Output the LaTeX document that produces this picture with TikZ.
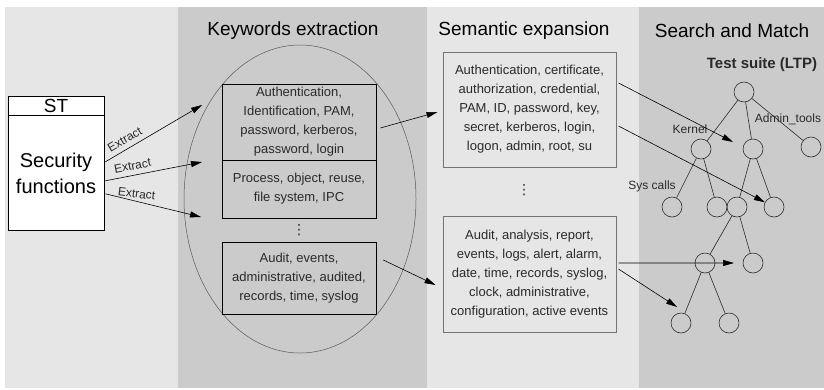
\documentclass[tikz,border=0pt]{standalone}
\usepackage{fontspec}
\setmainfont{Liberation Sans}
\newfontfamily\Symfont{DejaVu Sans}
\usetikzlibrary{shapes.geometric,arrows.meta}
\definecolor{LightCol}{HTML}{E6E6E6}
\definecolor{DarkCol}{HTML}{CBCBCB}
\definecolor{Ink}{HTML}{2A2A2A}
\newcommand{\Leafsize}{20bp}
\newcommand{\Boxfont}{\fontsize{13bp}{19bp}\selectfont}
\tikzset{Title/.style={
    font={\fontsize{19bp}{21bp}\selectfont}
    },
    Stbox/.style={
    draw=black,
    fill=white,
    line width=0.8pt,
    minimum width=96bp,
    inner sep=0pt,
    align=center,
    font={\fontsize{20bp}{26bp}\selectfont}
    },
    Keybox/.style={
    draw=black,
    line width=0.7pt,
    minimum width=154bp,
    inner sep=0pt,
    align=center,
    text=Ink,
    font=\Boxfont
    },
    Expbox/.style={
    draw=black!55,
    fill=LightCol,
    line width=1pt,
    minimum width=173bp,
    minimum height=116bp,
    inner sep=0pt,
    align=center,
    text=Ink,
    font=\Boxfont
    },
    Dotbox/.style={
    inner sep=0pt,
    text=Ink,
    font={\Symfont\fontsize{14bp}{16bp}\selectfont}
    },
    Leaf/.style={
    circle,
    draw=Ink,
    line width=0.6pt,
    minimum size=\Leafsize,
    inner sep=0pt
    },
    Small/.style={
    inner sep=1pt,
    text=Ink,
    font={\fontsize{12bp}{14bp}\selectfont}
    },
    Arrow/.style={
    draw=black,
    line width=0.6pt,
    -{Triangle[length=11bp,width=6bp]}
    }
}

\begin{document}
\begin{tikzpicture}[x=1bp, y=-1bp]
\fill[white] (0,0) rectangle (824,389);
\foreach \xa/\xb/\Tone in {5/178/LightCol, 178/427/DarkCol, 427/639/LightCol, 639/824/DarkCol}
  \fill[\Tone] (\xa,7) rectangle (\xb,388);

\node[Title] (kwtitle) at (293,31) {Keywords extraction};
\node[Title] (semtitle) at (524,31) {Semantic expansion};
\node[Title] (smtitle) at (732,31) {Search and Match};

\node[Stbox, minimum height=19bp, font={\fontsize{19bp}{21bp}\selectfont}] (st) at (56,105.5) {ST};
\node[Stbox, minimum height=115bp, anchor=north] (sf) at (st.south) {Security\\functions};

\node[draw=black!65, line width=0.5pt, ellipse, minimum width=232bp, minimum height=308bp, inner sep=0pt] (kw) at (300,199) {};
\node[Keybox, minimum height=76bp] (kw1) at (299,122) {Authentication,\\Identification, PAM,\\password, kerberos,\\password, login};
\node[Keybox, minimum height=58bp] (kw2) at (299,189) {Process, object, reuse,\\file system, IPC};
\node[Dotbox] (kwdots) at (299,230) {⋮};
\node[Keybox, minimum height=72bp] (kw3) at (299,278) {Audit, events,\\administrative, audited,\\records, time, syslog};

\node[Expbox, minimum height=115bp] (sem1) at (529.5,109.5) {Authentication, certificate,\\authorization, credential,\\PAM, ID, password, key,\\secret, kerberos, login,\\logon, admin, root, su};
\node[Dotbox] (semdots) at (524,190) {⋮};
\node[Expbox] (sem2) at (529.5,274) {Audit, analysis, report,\\events, logs, alert, alarm,\\date, time, records, syslog,\\clock, administrative,\\configuration, active events};

\node[Small, font={\fontsize{15bp}{17bp}\selectfont\bfseries}] (suite) at (762,65) {Test suite (LTP)};
\node[Small] (kernel) at (690,129) {Kernel};
\node[Small] (admin) at (788,119) {Admin\_tools};
\node[Small] (sys) at (652,186) {Sys calls};

\foreach \n/\x/\y in {r/744/92, k/701/149, m/753/149, a/811/147, s1/672/207, s2/717/207, s3/737/207, s4/774/207, t1/705/263, t2/753/263, u1/681/323, u2/729/323}
  \node[Leaf] (\n) at (\x,\y) {};
\foreach \p/\c in {r/k, r/m, r/a, k/s1, k/s2, m/s3, m/s4, s3/t1, s3/t2, t1/u1, t1/u2}
  \draw[draw=Ink, line width=0.6pt] (\p) -- (\c);

\coordinate (e1) at (202,105);
\coordinate (e2) at (202,162);
\coordinate (e3) at (201,217);
\coordinate (h1) at (733,142);
\coordinate (h2) at (734,263);
\coordinate (h3) at (677,307);

\draw[Arrow] ([xshift=1bp,yshift=11.5bp]sf.east) -- node[Small, sloped, above=4bp, pos=0.25] {Extract} (e1);
\draw[Arrow] ([xshift=1bp,yshift=-7.5bp]sf.east) -- node[Small, sloped, above=4bp, pos=0.3] {Extract} (e2);
\draw[Arrow] ([xshift=1bp,yshift=-20.5bp]sf.east) -- node[Small, above=2bp, rotate=-7, pos=0.32] {Extract} (e3);

\draw[Arrow] ([xshift=4bp,yshift=-6bp]kw1.east) -- ([xshift=-5bp,yshift=-2.5bp]sem1.west);
\draw[Arrow] ([xshift=7bp,yshift=18bp]kw3.east) -- ([xshift=-7bp,yshift=-11bp]sem2.west);

\draw[Arrow] ([xshift=2bp,yshift=26.5bp]sem1.east) -- (h1);
\draw[Arrow] ([xshift=2bp,yshift=-16.5bp]sem1.east) -- (s4);
\draw[Arrow] ([xshift=2bp,yshift=11bp]sem2.east) -- (h2);
\draw[Arrow] ([xshift=2bp,yshift=5bp]sem2.east) -- (h3);
\end{tikzpicture}
\end{document}
